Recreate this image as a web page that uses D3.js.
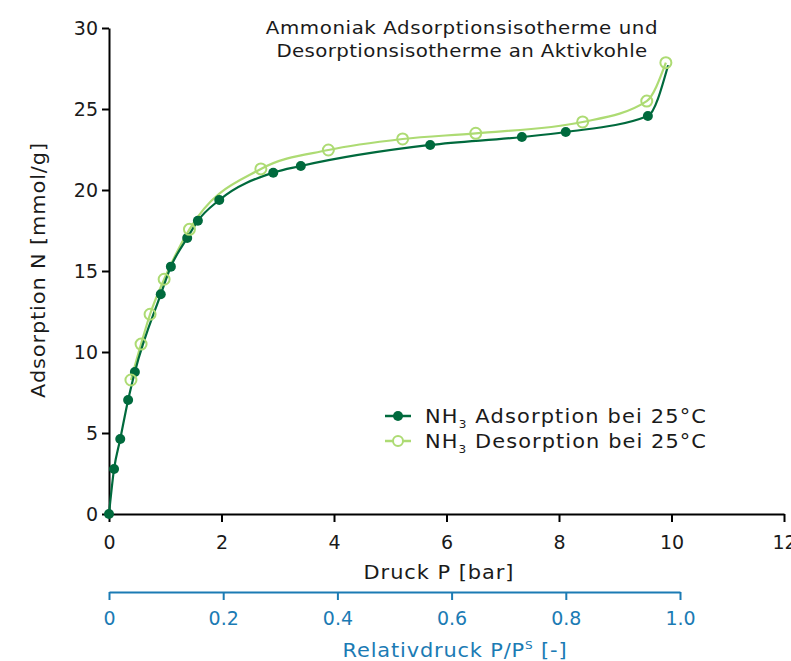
<!DOCTYPE html>
<html>
<head>
<meta charset="utf-8">
<script src="https://cdn.jsdelivr.net/npm/d3@7"></script>
<style>
body{margin:0;background:#fff;}
text{font-family:"DejaVu Sans",sans-serif;}
</style>
</head>
<body>
<svg></svg>
<script>
var width=791;
var height=661;

// druck in bar, adsorption in mmol/g
var adsP=[0,0.09,0.2,0.34,0.46,0.92,1.10,1.39,1.58,1.96,2.92,3.41,5.71,7.34,8.12,9.58,9.94];
var adsN=[0,2.78,4.63,7.04,8.77,13.56,15.27,17.04,18.1,19.38,21.07,21.48,22.78,23.27,23.58,24.57,27.7];
var desP=[0.39,0.57,0.73,0.98,1.43,2.70,3.90,5.22,6.52,8.42,9.56,9.90];
var desN=[8.27,10.49,12.33,14.49,17.57,21.3,22.47,23.15,23.5,24.2,25.49,27.86];

var xTicks=[0,2,4,6,8,10,12];
var yTicks=[0,5,10,15,20,25,30];
var relTicks=[0,0.2,0.4,0.6,0.8,1.0];

var dark='#006a3d';
var light='#addb73';
var blue='#1b7bb4';
var ink='#1a1a1a';

var ads=adsP.map((p,i)=>({p:p,n:adsN[i]}));
var des=desP.map((p,i)=>({p:p,n:desN[i]}));

var svg=d3.select('svg').attr('width',width).attr('height',height);

var xScale=d3.scaleLinear().domain([0,12]).range([109,784]);
var yScale=d3.scaleLinear().domain([0,30]).range([514,28]);
var relScale=d3.scaleLinear().domain([0,1]).range([109,680]);

// the original uses a wide font: stretch a bit, then spread the rest
function wide(x,y,rot,size,color,anchor,target,build){
	var g=svg.append('g');
	var t=g.append('text')
		.style('font-size',size+'px')
		.style('text-anchor',anchor)
		.attr('fill',color);
	build(t);
	var len=t.node().getComputedTextLength();
	var n=t.node().textContent.length;
	var s=Math.min(target/len,1.1);
	g.attr('transform','translate('+x+','+y+') rotate('+rot+') scale('+s+',1)');
	if(n>1) t.style('letter-spacing',((target/s-len)/(n-1))+'px');
	return t;
}

var xAxis=d3.axisBottom(xScale).tickValues(xTicks).tickSize(8).tickSizeOuter(0).tickFormat(d3.format('d'));
var yAxis=d3.axisLeft(yScale).tickValues(yTicks).tickSize(7).tickSizeOuter(0).tickFormat(d3.format('d'));
var relAxis=d3.axisBottom(relScale).tickValues(relTicks).tickSize(8).tickSizeOuter(0)
			.tickFormat(d=>d===0?'0':d3.format('.1f')(d));

var gx=svg.append('g')
	.attr('transform','translate(0,514)')
	.call(xAxis);
var gy=svg.append('g')
	.attr('transform','translate(109,0)')
	.call(yAxis);
var gr=svg.append('g')
	.attr('transform','translate(0,592)')
	.call(relAxis);

[gx,gy].forEach(function(g){
	g.selectAll('path,line').attr('stroke','#000').attr('stroke-width',2);
	g.selectAll('text').attr('fill',ink).style('font-size','19px').style('font-family','"DejaVu Sans",sans-serif');
});
gx.selectAll('text').attr('dy',null).attr('y',35);
gy.selectAll('text').attr('dy','0.36em').attr('x',-11);
gr.selectAll('path,line').attr('stroke',blue).attr('stroke-width',2);
gr.selectAll('text').attr('fill',blue).style('font-size','19px').style('font-family','"DejaVu Sans",sans-serif')
	.attr('dy',null).attr('y',33);

var line=d3.line()
	.x(d=>xScale(d.p))
	.y(d=>yScale(d.n))
	.curve(d3.curveMonotoneX);

svg.append('path')
	.datum(des)
	.attr('d',line)
	.attr('fill','none')
	.attr('stroke',light)
	.attr('stroke-width',2.2);

svg.append('path')
	.datum(ads)
	.attr('d',line)
	.attr('fill','none')
	.attr('stroke',dark)
	.attr('stroke-width',2.2);

svg.selectAll('circle.ads')
	.data(ads.slice(0,ads.length-1))
	.enter()
	.append('circle')
		.attr('class','ads')
		.attr('cx',d=>xScale(d.p))
		.attr('cy',d=>yScale(d.n))
		.attr('r',5)
		.attr('fill',dark);

svg.selectAll('circle.des')
	.data(des)
	.enter()
	.append('circle')
		.attr('class','des')
		.attr('cx',d=>xScale(d.p))
		.attr('cy',d=>yScale(d.n))
		.attr('r',5.5)
		.attr('fill','none')
		.attr('stroke',light)
		.attr('stroke-width',2);

// titel
wide(462,34,0,18,ink,'middle',392,t=>t.text('Ammoniak Adsorptionsisotherme und'));
wide(462,57,0,18,ink,'middle',371,t=>t.text('Desorptionsisotherme an Aktivkohle'));

wide(439,579,0,19,ink,'middle',150,t=>t.text('Druck P [bar]'));

wide(455,657,0,19,blue,'middle',224,function(t){
	t.append('tspan').text('Relativdruck P/P');
	t.append('tspan').attr('dy',-8).style('font-size','11px').text('S');
	t.append('tspan').attr('dy',8).text(' [-]');
});

wide(45,270,-90,19,ink,'middle',255,t=>t.text('Adsorption N [mmol/g]'));

// legende
var legend=[
	{label:'Adsorption bei 25°C',color:dark,filled:true,y:416},
	{label:'Desorption bei 25°C',color:light,filled:false,y:441}
];
legend.forEach(function(l){
	svg.append('line')
		.attr('x1',385).attr('x2',411)
		.attr('y1',l.y).attr('y2',l.y)
		.attr('stroke',l.color).attr('stroke-width',2.5);
	svg.append('circle')
		.attr('cx',398).attr('cy',l.y)
		.attr('r',5)
		.attr('fill',l.filled?l.color:'#fff')
		.attr('stroke',l.color).attr('stroke-width',l.filled?0:2);
	wide(425,l.y+7,0,19,ink,'start',281,function(t){
		t.append('tspan').text('NH');
		t.append('tspan').attr('dy',5).style('font-size','11px').text('3');
		t.append('tspan').attr('dy',-5).text(' '+l.label);
	});
});
</script>
</body>
</html>
